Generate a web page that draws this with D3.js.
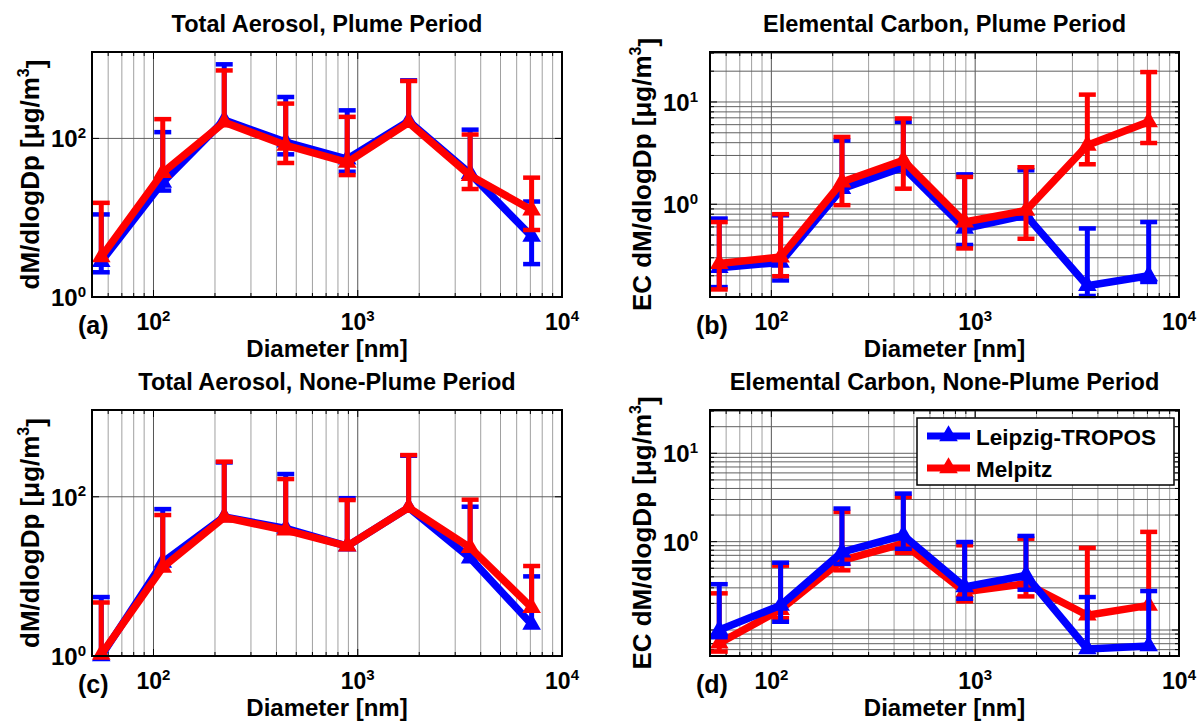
<!DOCTYPE html>
<meta charset="utf-8">
<style>
body { margin: 0; background: #fff; }
svg { font-family: Arial, "Liberation Sans", Helvetica, sans-serif; font-weight: bold; }
.grid-x line { stroke: #a0a0a0; stroke-width: 1; }
.grid-y line { stroke: #606060; stroke-width: 1; }
.frame { fill: none; stroke: #000; stroke-width: 2; }
.tick { stroke: #000; stroke-width: 1; }
.series { fill: none; stroke-width: 7.5; stroke-linejoin: round; }
</style>
<body>
<script src="https://d3js.org/d3.v7.min.js"></script>
<script>
// particle diameter (nm), same stages for all panels
var diameterNm = [55.5, 111, 222, 444, 888, 1775, 3550, 7100];

var xTickExp = [2, 3, 4];
var yTickExpTotal = [0, 2];
var yTickExpEC = [0, 1];

var panelTitles = ["Total Aerosol, Plume Period", "Elemental Carbon, Plume Period",
                   "Total Aerosol, None-Plume Period", "Elemental Carbon, None-Plume Period"];
var panelLetters = ["(a)", "(b)", "(c)", "(d)"];
var seriesNames = ["Leipzig-TROPOS", "Melpitz"];
var seriesColors = ["#0000ff", "#ff0000"];

// (a) total aerosol, plume
var totalPlumeLeipzig   = [2.8, 28, 170, 90, 55, 165, 36, 5.8];
var totalPlumeLeipzigLo = [2.05, 22, null, 63, 38, null, null, 2.6];
var totalPlumeLeipzigHi = [11, 120, 860, 333, 226, 540, 129, 16];
var totalPlumeMelpitz   = [3.2, 37, 160, 82, 50, 158, 34, 12.5];
var totalPlumeMelpitzLo = [null, null, null, 49, 34.5, null, 23, 7];
var totalPlumeMelpitzHi = [15.4, 175, 720, 275, 187, 530, 112, 32];

// (b) elemental carbon, plume
var ecPlumeLeipzig   = [0.24, 0.27, 1.42, 2.3, 0.58, 0.78, 0.16, 0.2];
var ecPlumeLeipzigLo = [0.155, 0.18, null, null, 0.4, null, 0.127, 0.174];
var ecPlumeLeipzigHi = [0.725, 0.78, 4.2, 6.4, 1.96, 2.15, 0.58, 0.67];
var ecPlumeMelpitz   = [0.263, 0.305, 1.65, 2.69, 0.67, 0.87, 3.77, 6.4];
var ecPlumeMelpitzLo = [0.147, 0.198, 0.98, 1.42, 0.37, 0.46, 2.46, 3.97];
var ecPlumeMelpitzHi = [0.67, 0.8, 4.55, 6.9, 1.85, 2.3, 11.8, 19.6];

// (c) total aerosol, non-plume
var totalNonPlumeLeipzig   = [1.0, 15, 56, 40, 24, 73, 17, 2.5];
var totalNonPlumeLeipzigLo = [null, null, null, null, null, null, null, null];
var totalNonPlumeLeipzigHi = [5.5, 70, 270, 193, 96, 328, 75, 10];
var totalNonPlumeMelpitz   = [1.05, 13, 55, 38, 24, 73, 23, 4.05];
var totalNonPlumeMelpitzLo = [null, null, null, null, null, null, null, null];
var totalNonPlumeMelpitzHi = [4.7, 59, 276, 167, 91, 334, 92, 13.5];

// (d) elemental carbon, non-plume
var ecNonPlumeLeipzig   = [0.1, 0.19, 0.76, 1.18, 0.307, 0.416, 0.061, 0.066];
var ecNonPlumeLeipzigLo = [0.083, 0.124, 0.56, 0.83, 0.226, 0.286, null, null];
var ecNonPlumeLeipzigHi = [0.33, 0.578, 2.37, 3.5, 0.99, 1.16, 0.236, 0.276];
var ecNonPlumeMelpitz   = [0.071, 0.17, 0.615, 0.95, 0.27, 0.335, 0.147, 0.19];
var ecNonPlumeMelpitzLo = [0.057, 0.136, 0.474, 0.745, 0.211, 0.24, null, null];
var ecNonPlumeMelpitzHi = [0.26, 0.535, 2.17, 3.2, 0.91, 1.08, 0.85, 1.29];

function series(v, lo, hi) {
  return v.map(function(d, i) { return {x: diameterNm[i], y: d, lo: lo[i], hi: hi[i]}; });
}

var panels = [
  {left: 92, right: 562, top: 52, bottom: 297, yDomain: [1, 1230], yTicks: yTickExpTotal, yMinorGrid: false,
   yLabel: "dM/dlogDp [μg/m", yLabelX: 39, yTickGap: 6,
   data: [series(totalPlumeLeipzig, totalPlumeLeipzigLo, totalPlumeLeipzigHi),
          series(totalPlumeMelpitz, totalPlumeMelpitzLo, totalPlumeMelpitzHi)], order: [0, 1]},
  {left: 710, right: 1179, top: 52, bottom: 297, yDomain: [0.124, 30.8], yTicks: yTickExpEC, yMinorGrid: true,
   yLabel: "EC dM/dlogDp [μg/m", yLabelX: 651, yTickGap: 12,
   data: [series(ecPlumeLeipzig, ecPlumeLeipzigLo, ecPlumeLeipzigHi),
          series(ecPlumeMelpitz, ecPlumeMelpitzLo, ecPlumeMelpitzHi)], order: [0, 1]},
  {left: 92, right: 562, top: 410, bottom: 656, yDomain: [1, 1230], yTicks: yTickExpTotal, yMinorGrid: false,
   yLabel: "dM/dlogDp [μg/m", yLabelX: 39, yTickGap: 6,
   data: [series(totalNonPlumeLeipzig, totalNonPlumeLeipzigLo, totalNonPlumeLeipzigHi),
          series(totalNonPlumeMelpitz, totalNonPlumeMelpitzLo, totalNonPlumeMelpitzHi)], order: [0, 1]},
  {left: 710, right: 1179, top: 410, bottom: 656, yDomain: [0.0508, 30.9], yTicks: yTickExpEC, yMinorGrid: true,
   yLabel: "EC dM/dlogDp [μg/m", yLabelX: 651, yTickGap: 12,
   data: [series(ecNonPlumeLeipzig, ecNonPlumeLeipzigLo, ecNonPlumeLeipzigHi),
          series(ecNonPlumeMelpitz, ecNonPlumeMelpitzLo, ecNonPlumeMelpitzHi)], order: [1, 0], legend: true}
];

var svg = d3.select("body").append("svg").attr("width", 1203).attr("height", 724);

// every 1..9 x 10^k inside a domain
function logLines(domain) {
  var out = [];
  for (var k = -3; k <= 5; k++)
    for (var m = 1; m <= 9; m++) {
      var v = m * Math.pow(10, k);
      if (v >= domain[0] * 0.999 && v <= domain[1] * 1.001) out.push({v: v, major: m === 1});
    }
  return out;
}

function power(sel, e) {
  sel.text("10");
  sel.append("tspan").attr("dy", "-0.62em").style("font-size", "15px").text(e);
}

var triangle = d3.symbol().type(d3.symbolTriangle).size(150);

panels.forEach(function(p, pi) {
  var x = d3.scaleLog().domain([50, 1e4]).range([p.left, p.right]),
      y = d3.scaleLog().domain(p.yDomain).range([p.bottom, p.top]);
  var g = svg.append("g");

  var xs = logLines(x.domain()), ys = logLines(y.domain());
  // total-aerosol panels: grid and ticks only at the labelled decades
  if (!p.yMinorGrid) ys = ys.filter(function(d) {
    return p.yTicks.indexOf(Math.round(Math.log10(d.v))) >= 0 && d.major;
  });

  g.append("g").attr("class", "grid-x").selectAll("line").data(xs).enter().append("line")
      .attr("x1", function(d) { return x(d.v); }).attr("x2", function(d) { return x(d.v); })
      .attr("y1", p.top).attr("y2", p.bottom)
      .style("stroke", function(d) { return d.major ? "#555" : null; });
  g.append("g").attr("class", "grid-y").selectAll("line").data(ys).enter().append("line")
      .attr("x1", p.left).attr("x2", p.right)
      .attr("y1", function(d) { return y(d.v); }).attr("y2", function(d) { return y(d.v); });

  // inward ticks on all four sides
  var tk = g.append("g");
  xs.forEach(function(d) {
    var L = d.major ? 7 : 4;
    tk.append("line").attr("class", "tick").attr("x1", x(d.v)).attr("x2", x(d.v)).attr("y1", p.bottom).attr("y2", p.bottom - L);
    tk.append("line").attr("class", "tick").attr("x1", x(d.v)).attr("x2", x(d.v)).attr("y1", p.top).attr("y2", p.top + L);
  });
  ys.forEach(function(d) {
    var L = d.major ? 7 : 4;
    tk.append("line").attr("class", "tick").attr("y1", y(d.v)).attr("y2", y(d.v)).attr("x1", p.left).attr("x2", p.left + L);
    tk.append("line").attr("class", "tick").attr("y1", y(d.v)).attr("y2", y(d.v)).attr("x1", p.right).attr("x2", p.right - L);
  });

  // series: lines, error bars, markers
  p.order.forEach(function(si) {
    var data = p.data[si], col = seriesColors[si];
    var s = g.append("g");
    s.append("path").attr("class", "series").attr("stroke", col)
        .attr("d", d3.line().x(function(d) { return x(d.x); }).y(function(d) { return y(d.y); })(data));
    data.forEach(function(d) {
      var cx = x(d.x), bot = d.lo ? y(d.lo) : y(d.y);
      s.append("line").attr("x1", cx).attr("x2", cx).attr("y1", y(d.hi)).attr("y2", bot)
          .attr("stroke", col).attr("stroke-width", 5);
      s.append("line").attr("x1", cx - 8.5).attr("x2", cx + 8.5).attr("y1", y(d.hi)).attr("y2", y(d.hi))
          .attr("stroke", col).attr("stroke-width", 4.5);
      if (d.lo) s.append("line").attr("x1", cx - 8.5).attr("x2", cx + 8.5).attr("y1", y(d.lo)).attr("y2", y(d.lo))
          .attr("stroke", col).attr("stroke-width", 4.5);
    });
    s.selectAll(".mk").data(data).enter().append("path")
        .attr("transform", function(d) { return "translate(" + x(d.x) + "," + y(d.y) + ")"; })
        .attr("d", triangle).attr("fill", col);
  });

  g.append("rect").attr("class", "frame")
      .attr("x", p.left).attr("y", p.top).attr("width", p.right - p.left).attr("height", p.bottom - p.top);

  // tick labels
  xTickExp.forEach(function(e) {
    g.append("text").attr("x", x(Math.pow(10, e))).attr("y", p.bottom + 33)
        .attr("text-anchor", "middle").style("font-size", "23px").call(power, e);
  });
  p.yTicks.forEach(function(e) {
    g.append("text").attr("x", p.left - p.yTickGap).attr("y", y(Math.pow(10, e)) + 9)
        .attr("text-anchor", "end").style("font-size", "24px").call(power, e);
  });

  var cx = (p.left + p.right) / 2, cy = (p.top + p.bottom) / 2;
  g.append("text").attr("x", cx).attr("y", p.top - 20).attr("text-anchor", "middle")
      .style("font-size", "23.5px").text(panelTitles[pi]);
  g.append("text").attr("x", cx).attr("y", p.bottom + 60).attr("text-anchor", "middle")
      .style("font-size", "24px").text("Diameter [nm]");
  g.append("text").attr("x", p.left - 14).attr("y", p.bottom + 37)
      .style("font-size", "25px").text(panelLetters[pi]);
  var yl = g.append("text").attr("transform", "translate(" + p.yLabelX + "," + cy + ") rotate(-90)")
      .attr("text-anchor", "middle").style("font-size", "26px").text(p.yLabel);
  yl.append("tspan").attr("dy", "-0.6em").style("font-size", "16px").text("3");
  yl.append("tspan").attr("dy", "0.6em").text("]");

  if (p.legend) {
    var lg = g.append("g").attr("transform", "translate(" + (p.left + 207) + "," + (p.top + 8) + ")");
    lg.append("rect").attr("width", 257).attr("height", 67).attr("fill", "#fff")
        .attr("stroke", "#000").attr("stroke-width", 1.5);
    seriesNames.forEach(function(name, i) {
      var ly = 18 + i * 32;
      lg.append("line").attr("x1", 10).attr("x2", 53).attr("y1", ly).attr("y2", ly)
          .attr("stroke", seriesColors[i]).attr("stroke-width", 7);
      lg.append("path").attr("transform", "translate(31.5," + ly + ")").attr("d", triangle).attr("fill", seriesColors[i]);
      lg.append("text").attr("x", 59).attr("y", ly + 9).style("font-size", "22.5px").text(name);
    });
  }
});
</script>
</body>
